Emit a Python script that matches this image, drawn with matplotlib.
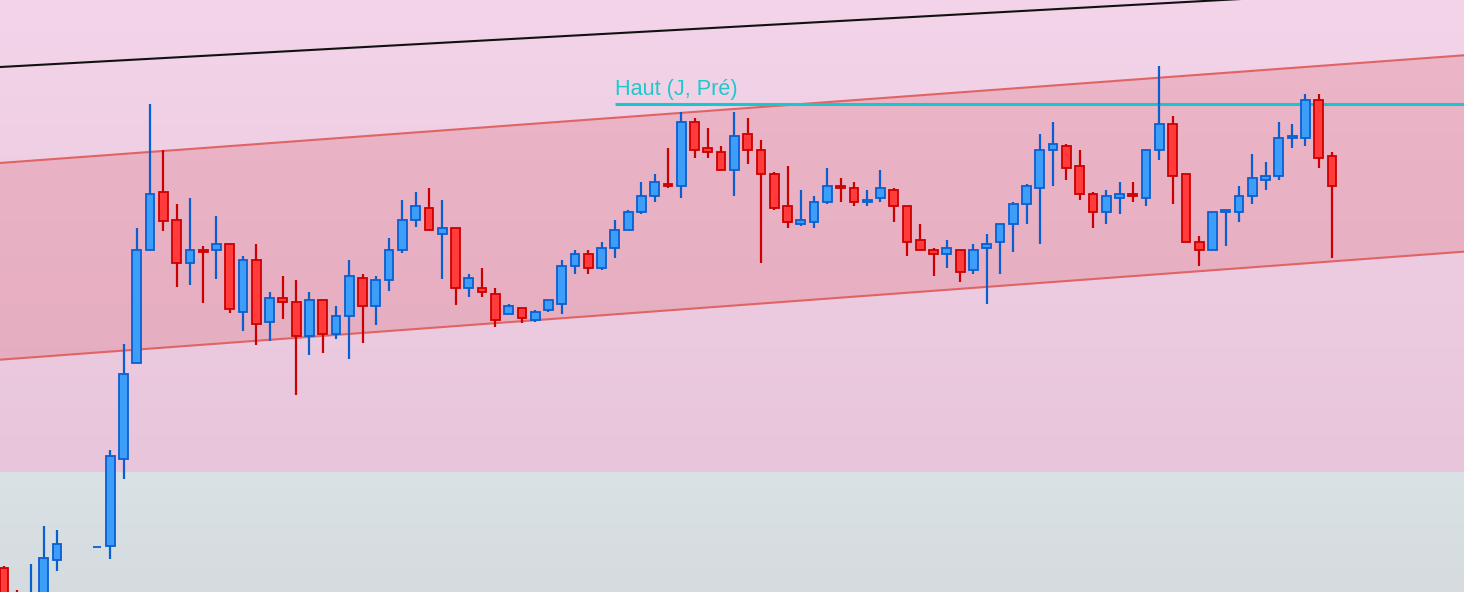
import numpy as np
import matplotlib
matplotlib.use("Agg")
import matplotlib.pyplot as plt

nan = np.nan

# candle values (chart points), index = bar number, nan = no bar
opens = [24, -8, -23, -8, 32, nan, nan, 45, 46, 133,
         229, 342, 400, 372, 329, 342, 342, 348, 280, 332,
         270, 294, 290, 256, 292, 258, 276, 314, 286, 312,
         342, 372, 384, 358, 364, 304, 304, 298, 278, 284,
         272, 282, 288, 326, 338, 324, 344, 362, 380, 396,
         408, 406, 470, 444, 440, 422, 458, 442, 418, 386,
         368, 370, 390, 406, 404, 390, 394, 402, 386, 352,
         342, 338, 342, 322, 344, 350, 368, 388, 404, 442,
         446, 426, 398, 380, 394, 398, 394, 442, 468, 418,
         350, 342, 380, 380, 396, 412, 416, 454, 454, 492,
         436]
highs = [26, 2, 28, 66, 62, nan, nan, 45, 142, 248,
         364, 488, 442, 388, 394, 346, 376, 348, 336, 348,
         300, 316, 312, 300, 292, 286, 332, 318, 316, 354,
         392, 400, 404, 392, 364, 318, 324, 304, 288, 284,
         282, 292, 332, 342, 342, 350, 372, 382, 410, 418,
         444, 480, 474, 464, 446, 480, 474, 452, 420, 426,
         402, 396, 424, 414, 410, 402, 422, 404, 386, 368,
         344, 352, 342, 348, 358, 368, 390, 408, 458, 470,
         448, 442, 400, 402, 410, 410, 442, 526, 476, 418,
         356, 380, 382, 406, 438, 430, 470, 468, 498, 498,
         440]
lows = [-18, -28, -26, -13, 21, nan, nan, 45, 33, 113,
        229, 342, 361, 305, 307, 289, 313, 279, 261, 247,
        251, 273, 197, 237, 239, 253, 233, 249, 267, 301,
        339, 365, 362, 313, 287, 295, 295, 265, 278, 269,
        270, 280, 278, 318, 318, 322, 334, 362, 378, 390,
        404, 394, 434, 434, 422, 396, 428, 329, 382, 364,
        366, 364, 388, 390, 386, 386, 390, 370, 336, 342,
        316, 324, 310, 318, 288, 318, 340, 368, 348, 406,
        412, 392, 364, 368, 378, 390, 386, 432, 388, 350,
        326, 342, 346, 370, 388, 402, 412, 444, 446, 424,
        334]
closes = [-8, -20, -4, 34, 48, nan, nan, 45, 136, 218,
          342, 398, 371, 329, 342, 340, 348, 283, 332, 268,
          294, 290, 256, 292, 258, 276, 316, 286, 312, 342,
          372, 386, 362, 364, 304, 314, 300, 272, 286, 274,
          280, 292, 326, 338, 324, 344, 362, 380, 396, 410,
          406, 470, 442, 440, 422, 456, 442, 418, 384, 370,
          372, 390, 406, 404, 390, 392, 404, 386, 350, 342,
          338, 344, 320, 342, 348, 368, 388, 406, 442, 448,
          424, 398, 380, 396, 398, 396, 442, 468, 416, 350,
          342, 380, 382, 396, 414, 416, 454, 456, 492, 434,
          406]

# drawn levels
channel_upper = [(0, 429.3), (100, 527.0)]
channel_lower = [(0, 232.6), (100, 330.6)]
trend_line = [(0, 525.2), (100, 598.0)]
prev_day_high = 488
prev_day_high_start = 46
prev_day_label = "Haut (J, Pré)"
zone_split = 120

o = np.array(opens, float)
h = np.array(highs, float)
l = np.array(lows, float)
c = np.array(closes, float)
idx = np.arange(len(o))

fig = plt.figure(figsize=(14.64, 5.92), dpi=100)
ax = fig.add_axes([0, 0, 1, 1])
x0, x1 = -0.301, 109.94
y0, y1 = 0, 592
ax.set_xlim(x0, x1)
ax.set_ylim(y0, y1)
ax.axis("off")

# background zones with soft vertical gradients (row 0 = bottom)
t = np.linspace(0, 1, 64).reshape(-1, 1)
pink_low = np.array([[0.910, 0.773, 0.855]])
pink_high = np.array([[0.953, 0.831, 0.914]])
pink = pink_low * (1 - t) + pink_high * t
ax.imshow(pink.reshape(-1, 1, 3), extent=(x0, x1, zone_split, y1), aspect="auto",
          origin="lower", zorder=0)
grey_low = np.array([[0.835, 0.859, 0.871]])
grey_high = np.array([[0.855, 0.886, 0.898]])
grey = grey_low * (1 - t) + grey_high * t
ax.imshow(grey.reshape(-1, 1, 3), extent=(x0, x1, y0, zone_split), aspect="auto",
          origin="lower", zorder=0)

# regression channel
xs = np.array([x0, x1])
def line_y(pts, x):
    (xa, ya), (xb, yb) = pts
    return ya + (yb - ya) * (x - xa) / (xb - xa)

ax.fill_between(xs, line_y(channel_lower, xs), line_y(channel_upper, xs),
                color="#d8505a", alpha=0.22, lw=0, zorder=1)
ax.plot(xs, line_y(channel_upper, xs), color="#e06464", lw=1.5, zorder=2)
ax.plot(xs, line_y(channel_lower, xs), color="#e06464", lw=1.5, zorder=2)
ax.plot(xs, line_y(trend_line, xs), color="#111111", lw=1.5, zorder=2)

# previous day high
ax.plot([prev_day_high_start - 0.02, x1], [prev_day_high, prev_day_high],
        color="#16c8cc", lw=2.2, solid_capstyle="butt", zorder=3)
ax.text(prev_day_high_start, prev_day_high + 9, prev_day_label, color="#1ec8cc",
        fontsize=15.6, family="Liberation Sans", va="baseline", ha="left", zorder=3)

# candles
up = c >= o
wick_col = np.where(up, "#0a5fd0", "#cc0000")
body_col = np.where(up, "#3c9ef8", "#ff3b3b")
ok = ~np.isnan(o)
ax.vlines(idx[ok], l[ok], h[ok], colors=wick_col[ok], lw=1.6, zorder=4)
bottom = np.minimum(o, c)
height = np.abs(c - o)
ax.bar(idx[ok], height[ok], bottom=bottom[ok], width=0.66, color=body_col[ok],
       edgecolor=wick_col[ok], linewidth=1.3, zorder=5)

fig.savefig("out.png", dpi=100)
